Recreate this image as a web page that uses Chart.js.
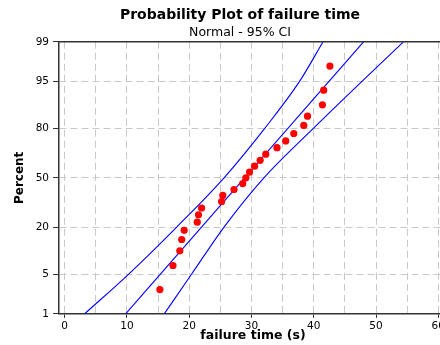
<!DOCTYPE html>
<html>
<head>
<meta charset="utf-8">
<script src="https://cdn.jsdelivr.net/npm/chart.js@4.4.1/dist/chart.umd.min.js"></script>
<style>
  html, body { margin: 0; padding: 0; background: #fff; overflow: hidden; }
  canvas { display: block; }
</style>
</head>
<body>
<canvas id="probChart" width="480" height="345"></canvas>
<script>
// failure times (s), sorted
const failureTimes = [15.3, 17.4, 18.5, 18.8, 19.2, 21.3, 21.5, 22.0, 25.2, 25.4, 27.2, 28.6, 29.1,
  29.7, 30.5, 31.4, 32.3, 34.1, 35.5, 36.8, 38.4, 39.0, 41.4, 41.6, 42.6];
// percent (plotting position) of each point
const pointPercents = [2.8, 6.7, 10.6, 14.6, 18.5, 22.4, 26.4, 30.3, 34.3, 38.2, 42.1, 46.1, 50.0,
  53.9, 57.9, 61.8, 65.7, 69.7, 73.6, 77.6, 81.5, 85.4, 89.4, 93.3, 97.2];

// fitted normal line, ends at 1% and 99%
const fitPercents = [1, 99];
const fitTimes = [9.8, 48.0];

// 95% confidence band, read at the percent grid levels
const bandPercents = [1, 5, 20, 50, 80, 95, 99];
const bandLower = [3.2, 10.3, 18.0, 25.6, 32.1, 37.7, 41.5];
const bandUpper = [16.0, 20.4, 25.6, 32.0, 39.9, 47.7, 54.4];

const percentTicks = [1, 5, 20, 50, 80, 95, 99];
const timeTicks = [0, 5, 10, 15, 20, 25, 30, 35, 40, 45, 50, 55, 60];

// inverse normal cdf (Acklam)
function probit(p) {
  const a = [-39.69683028665376, 220.9460984245205, -275.9285104469687, 138.3577518672690, -30.66479806614716, 2.506628277459239];
  const b = [-54.47609879822406, 161.5858368580409, -155.6989798598866, 66.80131188771972, -13.28068155288572];
  const c = [-0.007784894002430293, -0.3223964580411365, -2.400758277161838, -2.549732539343734, 4.374664141464968, 2.938163982698783];
  const d = [0.007784695709041462, 0.3224671290700398, 2.445134137142996, 3.754408661907416];
  const pl = 0.02425;
  let q, r;
  if (p < pl) {
    q = Math.sqrt(-2 * Math.log(p));
    return (((((c[0]*q+c[1])*q+c[2])*q+c[3])*q+c[4])*q+c[5]) / ((((d[0]*q+d[1])*q+d[2])*q+d[3])*q+1);
  }
  if (p > 1 - pl) {
    q = Math.sqrt(-2 * Math.log(1 - p));
    return -(((((c[0]*q+c[1])*q+c[2])*q+c[3])*q+c[4])*q+c[5]) / ((((d[0]*q+d[1])*q+d[2])*q+d[3])*q+1);
  }
  q = p - 0.5; r = q * q;
  return (((((a[0]*r+a[1])*r+a[2])*r+a[3])*r+a[4])*r+a[5])*q / (((((b[0]*r+b[1])*r+b[2])*r+b[3])*r+b[4])*r+1);
}

// normal probability axis
class ProbitScale extends Chart.LinearScale {
  buildTicks() {
    return percentTicks.map(v => ({ value: v }));
  }
  getPixelForValue(value) {
    const z0 = probit(this.min / 100), z1 = probit(this.max / 100);
    return this.getPixelForDecimal((probit(value / 100) - z0) / (z1 - z0));
  }
}
ProbitScale.id = 'probit';
ProbitScale.defaults = Chart.LinearScale.defaults;
Chart.register(ProbitScale);

const framePlugin = {
  id: 'frame',
  afterDraw(chart) {
    const { ctx, chartArea: a } = chart;
    ctx.save();
    ctx.strokeStyle = '#333';
    ctx.lineWidth = 1.5;
    ctx.beginPath();
    ctx.moveTo(a.left, a.top);
    ctx.lineTo(a.right, a.top);
    ctx.lineTo(a.right, a.bottom);
    ctx.stroke();
    ctx.restore();
  }
};

Chart.defaults.font.family = 'DejaVu Sans';
Chart.defaults.color = '#000';

const pairs = (xs, ys) => xs.map((x, i) => ({ x, y: ys[i] }));
const blue = 'rgb(0,0,255)';
const gridDash = [7, 4];

new Chart(document.getElementById('probChart'), {
  type: 'line',
  data: {
    datasets: [
      {
        data: pairs(failureTimes, pointPercents),
        showLine: false,
        pointRadius: 3.6,
        pointBackgroundColor: 'rgb(255,0,0)',
        pointBorderWidth: 0,
        order: 0
      },
      { data: pairs(fitTimes, fitPercents), borderColor: blue, borderWidth: 1.1, pointRadius: 0, order: 1 },
      { data: pairs(bandLower, bandPercents), borderColor: blue, borderWidth: 1.1, pointRadius: 0, cubicInterpolationMode: 'monotone', order: 1 },
      { data: pairs(bandUpper, bandPercents), borderColor: blue, borderWidth: 1.1, pointRadius: 0, cubicInterpolationMode: 'monotone', order: 1 }
    ]
  },
  options: {
    responsive: false,
    animation: false,
    events: [],
    layout: { padding: 0 },
    plugins: {
      legend: { display: false },
      tooltip: { enabled: false },
      title: {
        display: true,
        text: 'Probability Plot of failure time',
        font: { size: 14, weight: 'bold' },
        padding: { top: 7, bottom: 0 }
      },
      subtitle: {
        display: true,
        text: 'Normal - 95% CI',
        font: { size: 12.5 },
        padding: { top: 1, bottom: 2 }
      }
    },
    scales: {
      x: {
        type: 'linear',
        min: -0.9,
        max: 61.4,
        afterBuildTicks: s => { s.ticks = timeTicks.map(v => ({ value: v })); },
        ticks: {
          autoSkip: false,
          maxRotation: 0,
          padding: 2,
          font: { size: 10.5 },
          callback: v => (v % 10 === 0 ? String(v) : '')
        },
        grid: {
          color: '#c8c8c8',
          tickLength: 4,
          tickColor: c => (c.tick && c.tick.value % 10 === 0 ? '#333' : 'rgba(0,0,0,0)')
        },
        border: { color: '#333', width: 1.5, dash: gridDash },
        title: {
          display: true,
          text: 'failure time (s)',
          font: { size: 12.5, weight: 'bold' },
          padding: { top: -6, bottom: 1.5 }
        }
      },
      y: {
        type: 'probit',
        min: 1,
        max: 99,
        afterFit: s => { s.width = 59; },
        ticks: {
          autoSkip: false,
          padding: 4,
          font: { size: 10.5 },
          callback: v => String(v)
        },
        grid: { color: '#c8c8c8', tickLength: 6, tickColor: '#333' },
        border: { color: '#333', width: 1.5, dash: gridDash },
        title: {
          display: true,
          text: 'Percent',
          font: { size: 12, weight: 'bold' },
          padding: { top: 12.8, bottom: 0 }
        }
      },
      pad: {
        type: 'linear',
        position: 'right',
        display: true,
        grid: { display: false },
        border: { display: false },
        ticks: { display: false },
        afterFit: s => { s.width = 33; }
      }
    }
  },
  plugins: [framePlugin]
});
</script>
</body>
</html>
